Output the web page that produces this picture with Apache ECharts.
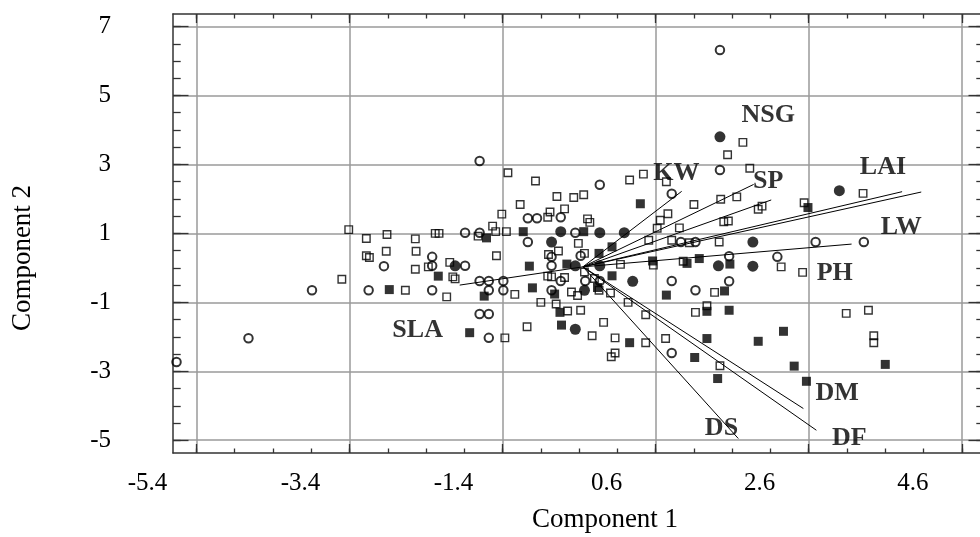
<!DOCTYPE html>
<html><head><meta charset="utf-8">
<script src="https://cdn.jsdelivr.net/npm/echarts@6/dist/echarts.min.js"></script>
<style>html,body{margin:0;padding:0;background:#fff}#c{width:980px;height:537px}</style>
</head><body><div id="c"></div>
<script>
// ---------- tick values and labels ----------
const xTickValues = [-5, -3, -1, 1, 3, 5];
const xTickLabels = ['-5.4', '-3.4', '-1.4', '0.6', '2.6', '4.6'];
const yTickValues = [-5, -3, -1, 1, 3, 5, 7];
const yTickLabels = ['-5', '-3', '-1', '1', '3', '5', '7'];

// ---------- scores (Component 1, Component 2) ----------
const openSquares = [
  [-3.01,1.11],[-2.78,0.85],[-2.51,0.97],[-2.14,0.84],[-1.88,1.00],[-1.83,1.00],[-2.78,0.35],[-2.74,0.30],
  [-2.52,0.48],[-2.13,0.48],[-2.14,-0.04],[-1.97,0.03],[-1.69,0.16],[-3.10,-0.33],[-2.27,-0.65],[-1.73,-0.84],
  [-0.93,2.76],[-0.57,2.52],[0.66,2.55],[0.84,2.72],[1.14,2.50],[-0.29,2.07],[-0.07,2.04],[0.06,2.12],
  [-0.77,1.84],[1.50,1.84],[1.85,1.99],[-1.01,1.56],[-0.38,1.62],[-0.19,1.71],[-0.41,1.47],[0.11,1.42],
  [0.14,1.32],[1.16,1.57],[1.06,1.38],[1.02,1.15],[1.31,1.16],[-1.13,1.21],[-1.32,0.92],[-1.09,1.05],
  [-0.95,1.05],[-0.01,0.71],[-0.27,0.49],[-0.40,0.39],[0.07,0.42],[0.91,0.80],[1.21,0.80],[1.44,0.73],
  [-1.08,0.35],[0.54,0.10],[0.97,0.08],[1.36,0.19],[-1.65,-0.26],[-1.62,-0.32],[-0.84,-0.77],[-0.41,-0.24],
  [-0.36,-0.26],[-0.19,-0.28],[-0.10,-0.70],[-0.02,-0.80],[0.07,-0.12],[0.20,-0.31],[0.26,-0.65],[0.41,-0.73],
  [0.64,-1.00],[1.77,-0.71],[-0.50,-1.00],[-0.30,-1.05],[-0.15,-1.25],[0.02,-1.23],[0.87,-1.36],[1.52,-1.29],
  [1.67,-1.10],[-0.68,-1.71],[0.32,-1.58],[-0.97,-2.03],[0.17,-1.97],[0.47,-2.03],[0.87,-2.17],[1.13,-2.05],
  [0.47,-2.47],[0.42,-2.58],[2.14,3.64],[1.94,3.28],[2.23,2.89],[2.06,2.06],[2.34,1.70],[2.39,1.79],
  [1.89,1.34],[1.95,1.36],[2.94,1.89],[3.71,2.16],[1.83,0.75],[2.64,0.03],[2.92,-0.13],[3.49,-1.32],
  [3.78,-1.23],[3.85,-1.97],[3.85,-2.17],[1.84,-2.84]
];
const filledSquares = [
  [-2.48,-0.63],[-1.84,-0.24],[0.80,1.86],[-1.21,0.87],[-0.73,1.05],[0.06,1.05],[0.43,0.61],[0.26,0.42],
  [-0.65,0.05],[-0.16,0.11],[0.96,0.20],[1.41,0.13],[1.57,0.27],[-1.24,-0.82],[-0.61,-0.58],[-0.32,-0.76],
  [0.24,-0.57],[0.43,-0.23],[1.14,-0.79],[1.67,-1.26],[-0.25,-1.29],[-0.23,-1.66],[-1.43,-1.88],[0.66,-2.17],
  [1.67,-2.05],[1.51,-2.60],[1.97,0.11],[1.90,-0.67],[1.96,-1.23],[2.67,-1.84],[2.34,-2.13],[1.81,-3.21],
  [2.81,-2.85],[2.97,-3.29],[4.00,-2.80],[2.99,1.75]
];
const openCircles = [
  [-1.92,0.32],[-2.55,0.05],[-1.92,0.06],[-3.49,-0.65],[-2.75,-0.65],[-1.92,-0.65],[-4.32,-2.04],[-5.26,-2.73],
  [-1.30,3.10],[0.27,2.41],[1.21,2.15],[-0.67,1.44],[-0.55,1.44],[-0.24,1.47],[-1.49,1.02],[-1.30,1.02],
  [-0.67,0.75],[-0.05,1.02],[-0.36,0.32],[0.02,0.35],[1.33,0.75],[1.52,0.75],[-1.49,0.06],[-0.36,0.06],
  [-1.30,-0.38],[-1.18,-0.38],[-0.99,-0.38],[-1.18,-0.65],[-0.99,-0.65],[-0.24,-0.38],[-0.36,-0.65],[0.08,-0.38],
  [0.27,-0.38],[1.21,-0.38],[1.52,-0.65],[-1.30,-1.34],[-1.18,-1.34],[-1.18,-2.03],[1.21,-2.47],[1.84,6.32],
  [1.84,2.84],[3.09,0.75],[3.72,0.75],[1.96,0.34],[2.59,0.32],[1.96,-0.39]
];
const filledCircles = [
  [-1.62,0.06],[-0.36,0.75],[-0.24,1.05],[0.27,1.02],[0.59,1.02],[-0.05,0.06],[0.27,0.06],[0.07,-0.65],
  [0.70,-0.39],[-0.05,-1.78],[1.84,3.80],[3.40,2.24],[2.27,0.75],[1.82,0.06],[2.27,0.05]
];

// ---------- loading vectors ----------
const vectorOrigin = [0.05, 0.03];
const vectorNames = ['KW', 'NSG', 'SP', 'LAI', 'LW', 'PH', 'SLA', 'DM', 'DF', 'DS'];
const vectorEnds = [
  [1.34,2.22],[2.28,2.42],[2.51,1.97],[4.22,2.21],[4.47,2.20],[3.56,0.69],[-1.56,-0.50],[2.93,-4.08],[3.10,-4.71],[2.08,-4.95]
];
const vectorLabelAt = [
  [1.27,2.74],[2.47,4.43],[2.47,2.50],[3.97,2.93],[4.21,1.19],[3.34,-0.16],[-2.11,-1.81],[3.37,-3.65],[3.53,-4.95],[1.86,-4.66]
];

const FONT = '"Liberation Serif", "Times New Roman", serif';
const X_MIN = -5.306, X_MAX = 5.29, Y_MIN = -5.37, Y_MAX = 7.364;
const minorX = []; for (let i = -10; i <= 10; i++) minorX.push(i / 2);
const minorY = []; for (let i = -10; i <= 14; i++) minorY.push(i / 2);

function lookup(vals, labs) {
  return function (v) {
    for (let i = 0; i < vals.length; i++) if (Math.abs(vals[i] - v) < 1e-6) return labs[i];
    return '';
  };
}
const AXC = '#333';
function baseAxis(extra) {
  return Object.assign({
    type: 'value',
    axisLine: { show: false, onZero: false },
    axisTick: { show: false },
    axisLabel: { show: false },
    splitLine: { show: false },
    silent: true
  }, extra);
}

const xAxes = [
  baseAxis({ position: 'bottom', min: X_MIN, max: X_MAX,
    axisLine: { show: true, onZero: false, lineStyle: { color: AXC, width: 1.5 } },
    axisTick: { show: true, inside: true, length: 9, customValues: xTickValues, lineStyle: { color: AXC, width: 1.3 } },
    splitLine: { show: true, lineStyle: { color: '#9a9a9a', width: 1.5 } },
    axisLabel: { show: true, customValues: xTickValues, formatter: lookup(xTickValues, xTickLabels),
      fontFamily: FONT, fontSize: 25, color: '#000', margin: 18, padding: [0, 98, 0, 0] } }),
  baseAxis({ position: 'bottom', min: X_MIN, max: X_MAX,
    axisTick: { show: true, inside: true, length: 4.5, customValues: minorX, lineStyle: { color: AXC, width: 1.3 } } }),
  baseAxis({ position: 'top', min: X_MIN, max: X_MAX,
    axisLine: { show: true, onZero: false, lineStyle: { color: AXC, width: 1.5 } },
    axisTick: { show: true, inside: true, length: 9, customValues: xTickValues, lineStyle: { color: AXC, width: 1.3 } } }),
  baseAxis({ position: 'top', min: X_MIN, max: X_MAX,
    axisTick: { show: true, inside: true, length: 4.5, customValues: minorX, lineStyle: { color: AXC, width: 1.3 } } })
];
const yAxes = [
  baseAxis({ position: 'left', min: Y_MIN, max: Y_MAX,
    axisLine: { show: true, onZero: false, lineStyle: { color: AXC, width: 1.5 } },
    axisTick: { show: true, inside: true, length: 15.5, customValues: yTickValues, lineStyle: { color: AXC, width: 1.3 } },
    splitLine: { show: true, lineStyle: { color: '#9a9a9a', width: 1.5 } },
    axisLabel: { show: true, customValues: yTickValues, formatter: lookup(yTickValues, yTickLabels),
      fontFamily: FONT, fontSize: 25, color: '#000', margin: 62 } }),
  baseAxis({ position: 'left', min: Y_MIN, max: Y_MAX,
    axisTick: { show: true, inside: true, length: 7.7, customValues: minorY, lineStyle: { color: AXC, width: 1.3 } } }),
  baseAxis({ position: 'right', min: Y_MIN, max: Y_MAX,
    axisLine: { show: true, onZero: false, lineStyle: { color: AXC, width: 1.5 } },
    axisTick: { show: true, inside: true, length: 15.5, customValues: yTickValues, lineStyle: { color: AXC, width: 1.3 } } }),
  baseAxis({ position: 'right', min: Y_MIN, max: Y_MAX,
    axisTick: { show: true, inside: true, length: 7.7, customValues: minorY, lineStyle: { color: AXC, width: 1.3 } } })
];

const series = [];
vectorEnds.forEach(function (e, i) {
  series.push({ type: 'line', name: vectorNames[i], data: [vectorOrigin, e], symbol: 'none',
    lineStyle: { color: '#000', width: 1 }, silent: true, z: 3, animation: false });
});
series.push({ type: 'scatter', name: 'open squares', data: openSquares, symbol: 'rect', symbolSize: 7.5,
  itemStyle: { color: 'rgba(0,0,0,0)', borderColor: '#000', borderWidth: 1.4 }, silent: true, z: 4 });
series.push({ type: 'scatter', name: 'filled squares', data: filledSquares, symbol: 'rect', symbolSize: 9,
  itemStyle: { color: '#000' }, silent: true, z: 4 });
series.push({ type: 'scatter', name: 'open circles', data: openCircles, symbol: 'circle', symbolSize: 8.5,
  itemStyle: { color: 'rgba(0,0,0,0)', borderColor: '#000', borderWidth: 2 }, silent: true, z: 4 });
series.push({ type: 'scatter', name: 'filled circles', data: filledCircles, symbol: 'circle', symbolSize: 11,
  itemStyle: { color: '#000' }, silent: true, z: 4 });
series.push({ type: 'scatter', name: 'vector labels', symbolSize: 1, itemStyle: { color: 'rgba(0,0,0,0)' },
  data: vectorLabelAt.map(function (p, i) { return { name: vectorNames[i], value: p }; }),
  label: { show: true, position: 'inside', formatter: '{b}', fontFamily: FONT, fontWeight: 'bold',
    fontSize: 26, color: '#000' }, silent: true, z: 5 });

const chart = echarts.init(document.getElementById('c'));
chart.setOption({
  animation: false,
  backgroundColor: '#fff',
  grid: { left: 173, top: 14, width: 811, height: 439, containLabel: false, outerBoundsMode: 'none' },
  xAxis: xAxes,
  yAxis: yAxes,
  series: series,
  graphic: [
    { type: 'text', x: 605, y: 520, style: { text: 'Component 1', font: '27px ' + FONT, fill: '#000',
      textAlign: 'center', textVerticalAlign: 'middle' } },
    { type: 'text', x: 23, y: 258, rotation: Math.PI / 2, style: { text: 'Component 2', font: '27px ' + FONT, fill: '#000',
      textAlign: 'center', textVerticalAlign: 'middle' } }
  ]
});
</script>
</body></html>
